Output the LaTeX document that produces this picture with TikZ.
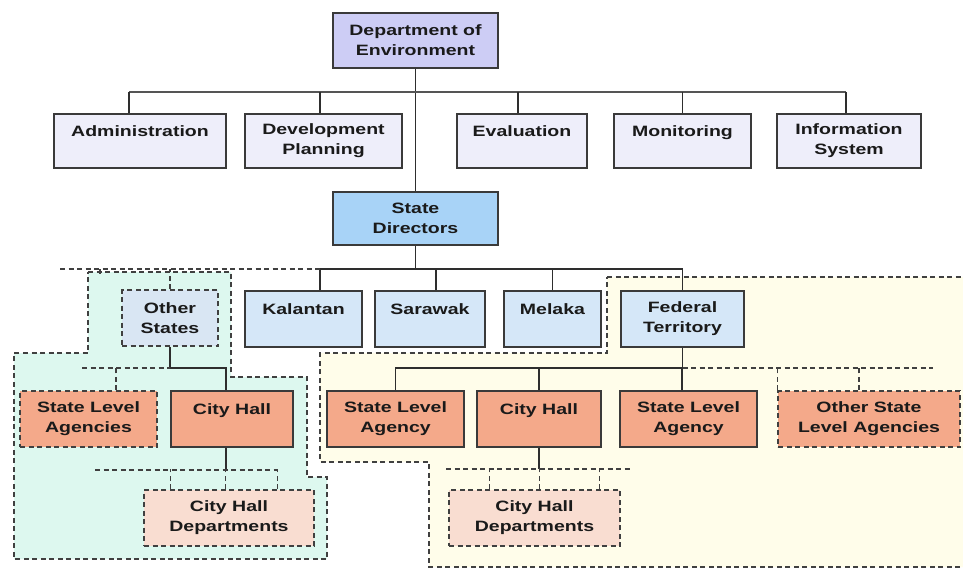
\documentclass[tikz,border=0pt]{standalone}
\usepackage{fontspec}
\setmainfont{Liberation Sans}[FakeStretch=1.3]
\usetikzlibrary{calc}
\definecolor{bordc}{HTML}{3A3A3A}
\definecolor{linec}{HTML}{2E2E2E}
\definecolor{dashc}{HTML}{404040}
\definecolor{busc}{HTML}{555555}
\definecolor{txtc}{HTML}{1A1A1A}
\definecolor{deptc}{HTML}{CDCDF5}
\definecolor{rowc}{HTML}{EEEEFA}
\definecolor{sdc}{HTML}{A8D3F7}
\definecolor{statec}{HTML}{D5E7F8}
\definecolor{othc}{HTML}{D9E6F3}
\definecolor{salc}{HTML}{F4A98A}
\definecolor{pinkc}{HTML}{F9DDD1}
\definecolor{mintc}{HTML}{DDF8EF}
\definecolor{creamc}{HTML}{FFFDEA}
\tikzset{
  box/.style={draw=bordc, line width=1.2pt, inner sep=0pt, align=center,
    font=\bfseries\fontsize{15}{20}\selectfont, text=txtc},
  dbox/.style={box, draw=dashc, dash pattern=on 5pt off 3.5pt, line width=1.2pt},
  conn/.style={draw=linec, line width=1.2pt},
  dconn/.style={draw=dashc, line width=1.2pt, dash pattern=on 5pt off 3.5pt},
  region/.style={draw=dashc, line width=1.2pt, dash pattern=on 5pt off 3.5pt},
}
\begin{document}
\begin{tikzpicture}[x=1pt,y=-1pt]
\useasboundingbox (0,0) rectangle (963,569);
\fill[white] (0,0) rectangle (963,569);

% background regions
\path[region, fill=mintc] (88,272) -- (231,272) -- (231,377) -- (307,377) -- (307,477)
  -- (327,477) -- (327,559) -- (14,559) -- (14,353) -- (88,353) -- cycle;
\path[region, fill=creamc] (607,277) -- (970,277) -- (970,567) -- (429,567) -- (429,462)
  -- (320,462) -- (320,353) -- (607,353) -- cycle;

% nodes
\node[box, fill=deptc, minimum width=165pt, minimum height=55pt] (dept) at (415.5,40.5) {Department of\\Environment};
\node[box, fill=rowc, minimum width=172pt, minimum height=54pt] (adm) at (140,141) {Administration\\\mbox{}};
\node[box, fill=rowc, minimum width=157pt, minimum height=54pt] (dev) at (323.5,141) {Development\\Planning};
\node[box, fill=rowc, minimum width=130pt, minimum height=54pt] (eval) at (522,141) {Evaluation\\\mbox{}};
\node[box, fill=rowc, minimum width=137pt, minimum height=54pt] (mon) at (682.5,141) {Monitoring\\\mbox{}};
\node[box, fill=rowc, minimum width=144pt, minimum height=54pt] (info) at (849,141) {Information\\System};
\node[box, fill=sdc, minimum width=165pt, minimum height=53pt] (sd) at (415.5,218.5) {State\\Directors};

\node[box, fill=statec, minimum width=117pt, minimum height=56pt] (kal) at (303.5,319) {Kalantan\\\mbox{}};
\node[box, fill=statec, minimum width=110pt, minimum height=56pt] (sar) at (430,319) {Sarawak\\\mbox{}};
\node[box, fill=statec, minimum width=97pt, minimum height=56pt] (mel) at (552.5,319) {Melaka\\\mbox{}};
\node[box, fill=statec, minimum width=123pt, minimum height=56pt] (fed) at (682.5,319) {Federal\\Territory};
\node[dbox, fill=othc, minimum width=96pt, minimum height=56pt] (oth) at (170,318) {Other\\States};

\node[dbox, fill=salc, minimum width=137pt, minimum height=56pt] (slaL) at (88.5,419) {State Level\\Agencies};
\node[box, fill=salc, minimum width=122pt, minimum height=56pt] (chL) at (232,419) {City Hall\\\mbox{}};
\node[box, fill=salc, minimum width=137pt, minimum height=56pt] (sla1) at (395.5,419) {State Level\\Agency};
\node[box, fill=salc, minimum width=124pt, minimum height=56pt] (chM) at (539,419) {City Hall\\\mbox{}};
\node[box, fill=salc, minimum width=137pt, minimum height=56pt] (sla2) at (688.5,419) {State Level\\Agency};
\node[dbox, fill=salc, minimum width=182pt, minimum height=56pt] (osla) at (869,419) {Other State\\Level Agencies};

\node[dbox, fill=pinkc, minimum width=170pt, minimum height=56pt] (chdL) at (229,518) {City Hall\\Departments};
\node[dbox, fill=pinkc, minimum width=171pt, minimum height=56pt] (chdM) at (534.5,518) {City Hall\\Departments};

% connector points
\coordinate (b1) at (0,92);
\coordinate (b2) at (0,269);
\coordinate (b3) at (0,368);
\coordinate (cAdm) at ($(adm.north)+(-11,0)$);
\coordinate (cDev) at ($(dev.north)+(-3.5,0)$);
\coordinate (cEval) at ($(eval.north)+(-4,0)$);
\coordinate (cInfo) at ($(info.north)+(-3,0)$);
\coordinate (cKal) at ($(kal.north)+(16.5,0)$);
\coordinate (cSar) at ($(sar.north)+(6,0)$);
\coordinate (cChL) at ($(chL.north)+(-6,0)$);
\coordinate (cSla2) at ($(sla2.north)+(-6.5,0)$);
\coordinate (cSlaL) at ($(slaL.north)+(27.5,0)$);
\coordinate (cOsla) at ($(osla.north)+(-10,0)$);
\coordinate (dl) at (60,269);
\coordinate (dlt) at (100,269);
\coordinate (dl3) at (82,368);
\coordinate (dr3) at (933,368);
\coordinate (dchL) at (95,470);
\coordinate (dchR) at (278,470);
\coordinate (dcmL) at (446,469);
\coordinate (dcmR) at (630,469);

% level 1
\draw[conn] (dept.south) -- (sd.north);
\draw[conn, draw=busc, line width=1.6pt] (cAdm |- b1) -- (cInfo |- b1);
\draw[conn] (cAdm) -- (cAdm |- b1);
\draw[conn] (cDev) -- (cDev |- b1);
\draw[conn] (cEval) -- (cEval |- b1);
\draw[conn] (mon.north) -- (mon.north |- b1);
\draw[conn] (cInfo) -- (cInfo |- b1);

% level 2
\draw[conn] (sd.south) -- (sd.south |- b2);
\draw[conn] (cKal) |- (fed.north |- b2) -- (fed.north);
\draw[conn] (cSar) -- (cSar |- b2);
\draw[conn] (mel.north) -- (mel.north |- b2);
\draw[dconn] (dl) -- (cKal |- b2);
\draw[dconn] (dlt) -- ++(0,7);
\draw[dconn] (oth.north) -- (oth.north |- b2);

% left branch
\draw[conn] (oth.south) |- (cChL |- b3) -- (cChL);
\draw[dconn] (dl3) -- (oth.south |- b3);
\draw[dconn] (cSlaL) -- (cSlaL |- b3);
\draw[conn] (chL.south) ++(-6,0) -- (dchL -| cChL);
\draw[dconn] (dchL) -- (dchR);
\foreach \dx in {27,82,134} \draw[dconn] ([xshift=\dx pt]chdL.north west) -- ++(0,-20);

% right branch
\draw[conn] (fed.south) -- (fed.south |- b3);
\draw[conn] (sla1.north) |- (cSla2 |- b3) -- (cSla2);
\draw[conn] (chM.north) -- (chM.north |- b3);
\draw[dconn] (fed.south |- b3) -- (dr3);
\draw[dconn] (osla.north west) -- (osla.north west |- b3);
\draw[dconn] (cOsla) -- (cOsla |- b3);
\draw[conn] (chM.south) -- (chM.south |- dcmL);
\draw[dconn] (dcmL) -- (dcmR);
\foreach \dx in {41,91,151} \draw[dconn] ([xshift=\dx pt]chdM.north west) -- ++(0,-21);
\end{tikzpicture}
\end{document}
